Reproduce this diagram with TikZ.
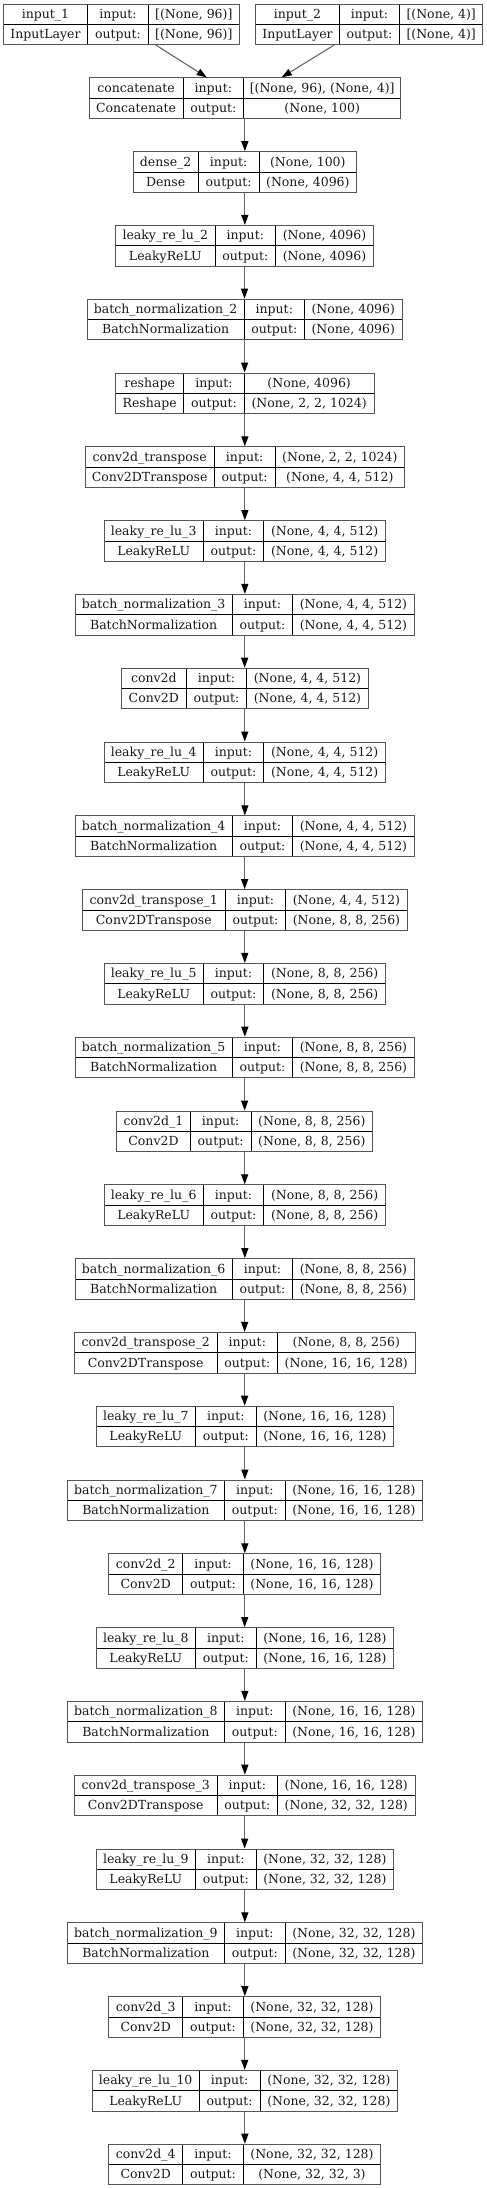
\documentclass[tikz,border=0pt]{standalone}
\usepackage{fontspec}
\setmainfont{DejaVu Serif}
\usetikzlibrary{fit,calc,arrows.meta}
\definecolor{boxgray}{HTML}{555555}
\definecolor{edgegray}{HTML}{666666}
\tikzset{
  boxstyle/.style={draw=boxgray, line width=1pt, inner sep=0pt, rectangle},
  cellline/.style={draw=black, line width=0.8pt},
  txt/.style={anchor=base, inner sep=0pt, font=\fontsize{12.5}{14}\selectfont, text=black!90},
  arr/.style={draw=edgegray, line width=1.1pt, -{Triangle[length=10pt,width=7pt,color=black,fill=black]}, shorten >=0pt}
}
\newcommand\lyr[7]{%
  \pgfmathsetmacro\Ltop{4+73.8*#2}%
  \pgfmathsetmacro\Lbot{\Ltop+40.6}%
  \pgfmathsetmacro\Lmid{\Ltop+20.3}%
  \pgfmathsetmacro\Lba{\Ltop+14.4}%
  \pgfmathsetmacro\Lbb{\Ltop+34.7}%
  \def\Lid{#1}\def\Lname{#4}\def\Ltype{#5}\def\Lin{#6}\def\Lout{#7}%
  \lyrA#3\relax}
\def\lyrA#1,#2,#3,#4\relax{%
  \draw[cellline] (#2,\Ltop) -- (#2,\Lbot) (#3,\Ltop) -- (#3,\Lbot) (#1,\Lmid) -- (#4,\Lmid);
  \node[fit={(#1,\Ltop) (#4,\Lbot)}, boxstyle] (\Lid) {};
  \node[txt] at ({(#1+#2)/2},\Lba) {\Lname};
  \node[txt] at ({(#1+#2)/2},\Lbb) {\Ltype};
  \node[txt] at ({(#2+#3)/2},\Lba) {input:};
  \node[txt] at ({(#2+#3)/2},\Lbb) {output:};
  \node[txt] at ({(#3+#4)/2},\Lba) {\Lin};
  \node[txt] at ({(#3+#4)/2},\Lbb) {\Lout};
}
\begin{document}
\begin{tikzpicture}[x=1pt,y=-1pt]
\useasboundingbox[fill=white] (0,0) rectangle (487,2188);
\lyr{in1}{0}{3.3,87.7,148.3,239.3}{input\_1}{InputLayer}{[(None, 96)]}{[(None, 96)]}
\lyr{in2}{0}{255.7,339.3,399.7,482.7}{input\_2}{InputLayer}{[(None, 4)]}{[(None, 4)]}
\lyr{L1}{1}{89,183,243.7,400.7}{concatenate}{Concatenate}{[(None, 96), (None, 4)]}{(None, 100)}
\lyr{L2}{2}{133,198.3,259,356.7}{dense\_2}{Dense}{(None, 100)}{(None, 4096)}
\lyr{L3}{3}{115.7,215,275.7,373.3}{leaky\_re\_lu\_2}{LeakyReLU}{(None, 4096)}{(None, 4096)}
\lyr{L4}{4}{87,244.3,304.3,402.3}{batch\_normalization\_2}{BatchNormalization}{(None, 4096)}{(None, 4096)}
\lyr{L5}{5}{115.7,183.7,244.3,374}{reshape}{Reshape}{(None, 4096)}{(None, 2, 2, 1024)}
\lyr{L6}{6}{85,214.3,275,404.7}{conv2d\_transpose}{Conv2DTranspose}{(None, 2, 2, 1024)}{(None, 4, 4, 512)}
\lyr{L7}{7}{104,203.3,263.7,385.7}{leaky\_re\_lu\_3}{LeakyReLU}{(None, 4, 4, 512)}{(None, 4, 4, 512)}
\lyr{L8}{8}{75,232.3,292.7,414.3}{batch\_normalization\_3}{BatchNormalization}{(None, 4, 4, 512)}{(None, 4, 4, 512)}
\lyr{L9}{9}{121.3,186.3,246.7,368.3}{conv2d}{Conv2D}{(None, 4, 4, 512)}{(None, 4, 4, 512)}
\lyr{L10}{10}{104,203.3,263.7,385.7}{leaky\_re\_lu\_4}{LeakyReLU}{(None, 4, 4, 512)}{(None, 4, 4, 512)}
\lyr{L11}{11}{75,232.3,292.7,414.3}{batch\_normalization\_4}{BatchNormalization}{(None, 4, 4, 512)}{(None, 4, 4, 512)}
\lyr{L12}{12}{82.3,225.3,285.7,407.3}{conv2d\_transpose\_1}{Conv2DTranspose}{(None, 4, 4, 512)}{(None, 8, 8, 256)}
\lyr{L13}{13}{104,203.3,263.7,385.7}{leaky\_re\_lu\_5}{LeakyReLU}{(None, 8, 8, 256)}{(None, 8, 8, 256)}
\lyr{L14}{14}{75,232.3,292.7,414.3}{batch\_normalization\_5}{BatchNormalization}{(None, 8, 8, 256)}{(None, 8, 8, 256)}
\lyr{L15}{15}{116.7,190.3,251,372.7}{conv2d\_1}{Conv2D}{(None, 8, 8, 256)}{(None, 8, 8, 256)}
\lyr{L16}{16}{104,203.3,263.7,385.7}{leaky\_re\_lu\_6}{LeakyReLU}{(None, 8, 8, 256)}{(None, 8, 8, 256)}
\lyr{L17}{17}{75,232.3,292.7,414.3}{batch\_normalization\_6}{BatchNormalization}{(None, 8, 8, 256)}{(None, 8, 8, 256)}
\lyr{L18}{18}{74,217.3,277.3,415.3}{conv2d\_transpose\_2}{Conv2DTranspose}{(None, 8, 8, 256)}{(None, 16, 16, 128)}
\lyr{L19}{19}{96,195.7,256,393.7}{leaky\_re\_lu\_7}{LeakyReLU}{(None, 16, 16, 128)}{(None, 16, 16, 128)}
\lyr{L20}{20}{67,224.7,285,422.7}{batch\_normalization\_7}{BatchNormalization}{(None, 16, 16, 128)}{(None, 16, 16, 128)}
\lyr{L21}{21}{108.7,182.7,243.3,380.7}{conv2d\_2}{Conv2D}{(None, 16, 16, 128)}{(None, 16, 16, 128)}
\lyr{L22}{22}{96,195.7,256,393.7}{leaky\_re\_lu\_8}{LeakyReLU}{(None, 16, 16, 128)}{(None, 16, 16, 128)}
\lyr{L23}{23}{67,224.7,285,422.7}{batch\_normalization\_8}{BatchNormalization}{(None, 16, 16, 128)}{(None, 16, 16, 128)}
\lyr{L24}{24}{74,217.3,277.3,415.3}{conv2d\_transpose\_3}{Conv2DTranspose}{(None, 16, 16, 128)}{(None, 32, 32, 128)}
\lyr{L25}{25}{96,195.7,256,393.7}{leaky\_re\_lu\_9}{LeakyReLU}{(None, 32, 32, 128)}{(None, 32, 32, 128)}
\lyr{L26}{26}{67,224.7,285,422.7}{batch\_normalization\_9}{BatchNormalization}{(None, 32, 32, 128)}{(None, 32, 32, 128)}
\lyr{L27}{27}{108.7,182.7,243.3,380.7}{conv2d\_3}{Conv2D}{(None, 32, 32, 128)}{(None, 32, 32, 128)}
\lyr{L28}{28}{92,199.3,260,397.7}{leaky\_re\_lu\_10}{LeakyReLU}{(None, 32, 32, 128)}{(None, 32, 32, 128)}
\lyr{L29}{29}{108.7,182.7,243.3,380.7}{conv2d\_4}{Conv2D}{(None, 32, 32, 128)}{(None, 32, 32, 3)}
\draw[arr] ($(in1.south west)!0.646!(in1.south east)$) -- ($(L1.north west)!0.378!(L1.north east)$);
\draw[arr] ($(in2.south west)!0.346!(in2.south east)$) -- ($(L1.north west)!0.618!(L1.north east)$);
\foreach \a/\b in {1/2,2/3,3/4,4/5,5/6,6/7,7/8,8/9,9/10,10/11,11/12,12/13,13/14,14/15,15/16,16/17,17/18,18/19,19/20,20/21,21/22,22/23,23/24,24/25,25/26,26/27,27/28,28/29}
  \draw[arr] (L\a.south) -- (L\a.south |- L\b.north);
\end{tikzpicture}
\end{document}
